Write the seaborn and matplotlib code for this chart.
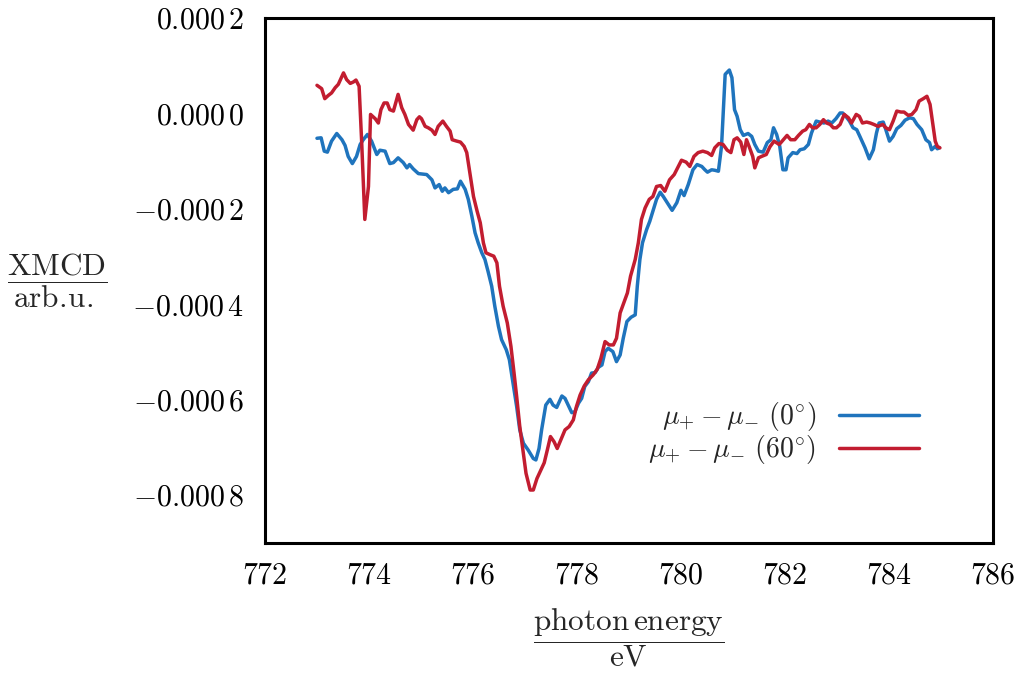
import numpy as np
import pandas as pd
import matplotlib
matplotlib.use("Agg")
import matplotlib.pyplot as plt
from matplotlib.ticker import FixedLocator, FuncFormatter
import seaborn as sns

# ---- data ----
energy_0deg = [
    773.00, 773.08, 773.14, 773.20, 773.28, 773.38, 773.48, 773.54, 773.60, 773.68,
    773.76, 773.83, 773.89, 773.97, 774.05, 774.15, 774.21, 774.31, 774.40, 774.47,
    774.56, 774.66, 774.73, 774.78, 774.85, 774.95, 775.11, 775.21, 775.27, 775.35,
    775.41, 775.46, 775.53, 775.62, 775.70, 775.76, 775.85, 775.91, 775.98, 776.04,
    776.10, 776.17, 776.23, 776.29, 776.36, 776.42, 776.49, 776.55, 776.64, 776.70,
    776.76, 776.84, 776.90, 776.97, 777.06, 777.16, 777.21, 777.27, 777.32, 777.40,
    777.48, 777.54, 777.61, 777.71, 777.77, 777.83, 777.90, 777.96, 778.03, 778.09,
    778.15, 778.22, 778.28, 778.35, 778.41, 778.48, 778.54, 778.60, 778.69, 778.76,
    778.83, 778.89, 778.96, 779.04, 779.12, 779.16, 779.21, 779.26, 779.34, 779.40,
    779.47, 779.53, 779.60, 779.66, 779.76, 779.83, 779.92, 780.00, 780.06, 780.14,
    780.23, 780.31, 780.40, 780.46, 780.51, 780.59, 780.65, 780.72, 780.78, 780.85,
    780.93, 780.98, 781.03, 781.08, 781.14, 781.20, 781.29, 781.36, 781.42, 781.49,
    781.58, 781.66, 781.73, 781.78, 781.84, 781.90, 781.96, 782.02, 782.06, 782.15,
    782.23, 782.29, 782.37, 782.45, 782.51, 782.60, 782.67, 782.75, 782.83, 782.90,
    782.98, 783.06, 783.11, 783.17, 783.24, 783.31, 783.38, 783.44, 783.54, 783.62,
    783.70, 783.76, 783.81, 783.89, 783.94, 784.01, 784.08, 784.15, 784.23, 784.31,
    784.40, 784.47, 784.54, 784.63, 784.71, 784.78, 784.82, 784.89, 784.93, 784.97,
]
xmcd_0deg = [
    -52, -51, -79, -81, -58, -42, -55, -67, -90, -105,
    -90, -65, -55, -44, -58, -86, -77, -79, -105, -103,
    -93, -103, -114, -107, -116, -126, -128, -139, -156, -149,
    -163, -156, -166, -159, -158, -142, -159, -180, -216, -250,
    -271, -292, -306, -331, -362, -404, -446, -474, -495, -516,
    -558, -614, -663, -691, -705, -723, -726, -702, -663, -611,
    -599, -611, -616, -592, -597, -611, -627, -625, -607, -597,
    -572, -562, -544, -543, -532, -527, -499, -492, -499, -520,
    -506, -471, -436, -427, -422, -362, -306, -271, -243, -226,
    -201, -180, -165, -174, -191, -203, -187, -161, -172, -149,
    -118, -107, -111, -118, -123, -118, -119, -121, -69, 82,
    91, 75, 8, -6, -34, -46, -42, -48, -65, -79,
    -81, -61, -55, -30, -44, -69, -118, -118, -93, -82,
    -84, -76, -74, -65, -41, -16, -18, -20, -16, -20,
    -11, 1, 1, -6, -16, -30, -34, -48, -72, -95,
    -76, -41, -20, -18, -34, -58, -48, -32, -25, -14,
    -9, -11, -23, -34, -55, -61, -76, -69, -74, -72,
]

energy_60deg = [
    773.00, 773.09, 773.15, 773.22, 773.28, 773.35, 773.41, 773.46, 773.51, 773.57,
    773.64, 773.70, 773.75, 773.81, 773.86, 773.92, 773.99, 774.03, 774.12, 774.18,
    774.23, 774.29, 774.35, 774.40, 774.47, 774.56, 774.63, 774.69, 774.76, 774.85,
    774.92, 774.97, 775.01, 775.08, 775.14, 775.21, 775.27, 775.33, 775.42, 775.49,
    775.56, 775.60, 775.69, 775.76, 775.83, 775.88, 775.94, 776.01, 776.08, 776.14,
    776.20, 776.25, 776.33, 776.40, 776.46, 776.51, 776.58, 776.66, 776.73, 776.79,
    776.84, 776.90, 776.96, 777.02, 777.10, 777.16, 777.23, 777.29, 777.37, 777.43,
    777.49, 777.56, 777.62, 777.69, 777.77, 777.85, 777.93, 777.99, 778.06, 778.14,
    778.22, 778.31, 778.39, 778.46, 778.54, 778.62, 778.70, 778.76, 778.83, 778.90,
    778.97, 779.03, 779.12, 779.18, 779.24, 779.31, 779.39, 779.46, 779.53, 779.61,
    779.69, 779.78, 779.87, 779.95, 780.01, 780.10, 780.17, 780.25, 780.33, 780.42,
    780.51, 780.59, 780.65, 780.73, 780.81, 780.89, 780.96, 781.02, 781.08, 781.15,
    781.21, 781.26, 781.31, 781.38, 781.42, 781.49, 781.55, 781.64, 781.71, 781.79,
    781.89, 781.97, 782.04, 782.11, 782.19, 782.26, 782.34, 782.40, 782.47, 782.53,
    782.60, 782.67, 782.74, 782.80, 782.87, 782.93, 782.99, 783.06, 783.14, 783.22,
    783.28, 783.37, 783.43, 783.49, 783.57, 783.64, 783.71, 783.79, 783.88, 783.94,
    784.01, 784.08, 784.15, 784.23, 784.29, 784.37, 784.44, 784.52, 784.58, 784.66,
    784.73, 784.79, 784.84, 784.89, 784.93, 784.98,
]
xmcd_60deg = [
    59, 52, 31, 38, 43, 54, 61, 73, 85, 71,
    63, 66, 70, 57, -61, -222, -153, -2, -11, -20,
    8, 22, 22, 8, 5, 40, 12, -2, -23, -35,
    -13, -7, -11, -27, -30, -35, -44, -27, -16, -27,
    -37, -55, -58, -60, -69, -82, -124, -174, -205, -229,
    -271, -292, -296, -299, -313, -362, -404, -439, -488, -544,
    -593, -656, -705, -754, -789, -789, -765, -751, -732, -705,
    -677, -688, -702, -684, -663, -656, -642, -614, -590, -571,
    -558, -548, -536, -513, -478, -485, -485, -471, -418, -397,
    -376, -341, -306, -271, -222, -198, -180, -174, -153, -151,
    -163, -139, -128, -111, -98, -102, -111, -90, -82, -79,
    -82, -88, -72, -63, -65, -77, -82, -55, -51, -60,
    -86, -55, -69, -90, -114, -93, -90, -86, -70, -58,
    -65, -55, -46, -55, -55, -46, -37, -34, -23, -30,
    -30, -23, -13, -20, -23, -30, -30, -23, -2, -9,
    -20, -2, -6, -20, -18, -20, -23, -27, -23, -30,
    -34, -16, 5, 3, 3, -4, -2, 8, 26, 31,
    36, 19, -20, -58, -69, -72,
]

series_labels = [r"$\mu_{+} - \mu_{-}\ (0^{\circ})$", r"$\mu_{+} - \mu_{-}\ (60^{\circ})$"]
x_ticks = [772, 774, 776, 778, 780, 782, 784, 786]
y_ticks = [0.0002, 0.0, -0.0002, -0.0004, -0.0006, -0.0008]
y_tick_labels = [r"$0.000\,2$", r"$0.000\,0$", r"$-0.000\,2$", r"$-0.000\,4$",
                 r"$-0.000\,6$", r"$-0.000\,8$"]
x_label = r"$\dfrac{\mathrm{photon\,energy}}{\mathrm{eV}}$"
y_label = r"$\dfrac{\mathrm{XMCD}}{\mathrm{arb.\!u.}}$"

# values above are in units of 1e-6
df = pd.concat([
    pd.DataFrame({"E": energy_0deg, "XMCD": np.array(xmcd_0deg) * 1e-6, "series": series_labels[0]}),
    pd.DataFrame({"E": energy_60deg, "XMCD": np.array(xmcd_60deg) * 1e-6, "series": series_labels[1]}),
])

sns.set_theme(style="white")
plt.rcParams["mathtext.fontset"] = "cm"
plt.rcParams["font.family"] = ["cmr10", "DejaVu Serif"]
plt.rcParams["axes.unicode_minus"] = True

palette = {series_labels[0]: "#1f74bd", series_labels[1]: "#c21d30"}

fig = plt.figure(figsize=(10.18, 6.8), dpi=100)
ax = fig.add_axes([0.2603, 0.2015, 0.9754 - 0.2603, 0.9735 - 0.2015])

sns.lineplot(data=df, x="E", y="XMCD", hue="series", palette=palette,
             estimator=None, sort=False, linewidth=2.5, ax=ax)

ax.set_xlim(772, 786)
ax.set_ylim(-0.0009, 0.0002)
ax.xaxis.set_major_locator(FixedLocator(x_ticks))
ax.xaxis.set_major_formatter(FuncFormatter(lambda v, p: r"$%d$" % round(v)))
ax.set_yticks(y_ticks)
ax.set_yticklabels(y_tick_labels)
ax.tick_params(axis="both", length=0, labelsize=21.5, colors="black")
ax.tick_params(axis="y", pad=15)
ax.tick_params(axis="x", pad=14)

for s in ax.spines.values():
    s.set_visible(True)
    s.set_color("black")
    s.set_linewidth(2.2)

ax.set_xlabel(x_label, fontsize=22.5)
ax.set_ylabel(y_label, fontsize=22.5, rotation=0)
ax.xaxis.set_label_coords(0.5, -0.18)
ax.yaxis.set_label_coords(-0.285, 0.499)
ax.yaxis.label.set_va("center")
ax.xaxis.label.set_va("center")

handles, labels = ax.get_legend_handles_labels()
leg = ax.legend(handles, labels, loc="center right", bbox_to_anchor=(0.933, 0.209),
                frameon=False, markerfirst=False, fontsize=20, handlelength=2.9,
                labelspacing=0.0, handletextpad=0.8)
for t in leg.get_texts():
    t.set_ha("right")

fig.savefig("out.png", dpi=100, facecolor="white")
